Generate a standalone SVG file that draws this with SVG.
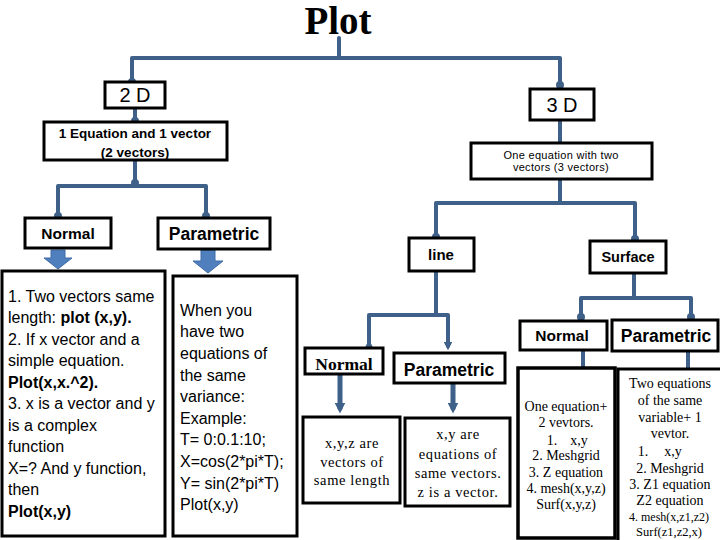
<svg xmlns="http://www.w3.org/2000/svg" width="720" height="540" viewBox="0 0 720 540">
<style>
.box{fill:#fff;stroke:#000;stroke-width:3}
.tbox{fill:#fff;stroke:#000;stroke-width:3}
.con{fill:none;stroke:#3f6089;stroke-width:4;stroke-linecap:round;stroke-linejoin:round}
.sb{font-family:"Liberation Sans",Arial,sans-serif;font-weight:bold;fill:#000}
.sr{font-family:"Liberation Sans",Arial,sans-serif;fill:#000}
.tr{font-family:"Liberation Serif","Times New Roman",serif;fill:#000}
.mid{text-anchor:middle}
.blk{fill:#4f7fbd;stroke:#3f6ca8;stroke-width:1}
</style>
<defs>
<marker id="dot" viewBox="0 0 6 6" refX="3" refY="3" markerWidth="2" markerHeight="2" markerUnits="strokeWidth">
<circle cx="3" cy="3" r="3" fill="#3f6089"/>
</marker>
<marker id="tip" viewBox="0 0 10 10" refX="5" refY="5" markerWidth="2.2" markerHeight="2.2" markerUnits="strokeWidth" orient="auto">
<path d="M0,0 L10,5 L0,10 z" fill="#3f6089"/>
</marker>
</defs>

<g id="connectors">
<path class="con" d="M339,38 V58"/>
<path class="con" d="M132,82 V58 H560 V85" marker-start="url(#dot)" marker-end="url(#dot)"/>
<path class="con" d="M135,108 V121" marker-end="url(#dot)"/>
<path class="con" d="M135,161 V183" marker-end="url(#dot)"/>
<path class="con" d="M58,216 V186 H206 V216" marker-start="url(#dot)" marker-end="url(#dot)"/>
<path class="con" d="M560,121 V142"/>
<path class="con" d="M560,179 V203"/>
<path class="con" d="M436,237 V203 H635 V239" marker-start="url(#dot)" marker-end="url(#dot)"/>
<path class="con" d="M436,271 V313"/>
<path class="con" d="M369,344 V315 H448 V346" marker-start="url(#tip)" marker-end="url(#tip)"/>
<path class="con" style="stroke-width:5" d="M340,375 V408" marker-end="url(#tip)"/>
<path class="con" style="stroke-width:5" d="M453,384 V408" marker-end="url(#tip)"/>
<path class="con" d="M634,273 V297"/>
<path class="con" d="M581,317 V298 H691 V317" marker-start="url(#dot)" marker-end="url(#dot)"/>
<path class="con" d="M583,351 V367"/>
<path class="con" d="M688,352 V368"/>
<path class="blk" d="M51,250 H65 V258 H72 L58,269 L44,258 H51 Z"/>
<path class="blk" d="M201,250 H215 V261 H223 L208,273 L193,261 H201 Z"/>
</g>

<g id="title">
<text x="338" y="34" class="tr mid" style="font-size:39px;font-weight:bold">Plot</text>
</g>

<g id="n2d">
<rect class="box" x="105" y="82" width="60" height="26"/>
<text x="135" y="102" class="sr mid" style="font-size:20px">2 D</text>
</g>

<g id="n3d">
<rect class="box" x="530" y="89" width="64" height="31"/>
<text x="562" y="112" class="sr mid" style="font-size:20px">3 D</text>
</g>

<g id="eq2d">
<rect class="box" x="44" y="122" width="183" height="38"/>
<text x="135" y="138" class="sb mid" style="font-size:13.5px">1 Equation and 1 vector</text>
<text x="135" y="157" class="sb mid" style="font-size:13.5px">(2 vectors)</text>
</g>

<g id="normal2d">
<rect class="box" x="25" y="218" width="86" height="30"/>
<text x="68" y="239" class="sb mid" style="font-size:15.5px">Normal</text>
</g>

<g id="param2d">
<rect class="box" x="158" y="218" width="112" height="31"/>
<text x="214" y="240" class="sb mid" style="font-size:17.5px">Parametric</text>
</g>

<g id="normal2dText">
<rect class="tbox" x="2" y="271" width="163" height="265"/>
<g class="sr" style="font-size:16px">
<text x="8" y="302">1. Two vectors same</text>
<text x="8" y="323">length: <tspan style="font-weight:bold">plot (x,y).</tspan></text>
<text x="8" y="345">2. If x vector and a</text>
<text x="8" y="366">simple equation.</text>
<text x="8" y="388" style="font-weight:bold">Plot(x,x.^2).</text>
<text x="8" y="409">3. x is a vector and y</text>
<text x="8" y="431">is a complex</text>
<text x="8" y="452">function</text>
<text x="8" y="474">X=? And y function,</text>
<text x="8" y="495">then</text>
<text x="8" y="517" style="font-weight:bold">Plot(x,y)</text>
</g>
</g>

<g id="param2dText">
<rect class="tbox" x="173" y="276" width="124" height="260"/>
<g class="sr" style="font-size:16px">
<text x="180" y="316">When you</text>
<text x="180" y="337">have two</text>
<text x="180" y="359">equations of</text>
<text x="180" y="381">the same</text>
<text x="180" y="402">variance:</text>
<text x="180" y="424">Example:</text>
<text x="180" y="445">T= 0:0.1:10;</text>
<text x="180" y="467">X=cos(2*pi*T);</text>
<text x="180" y="489">Y= sin(2*pi*T)</text>
<text x="180" y="510">Plot(x,y)</text>
</g>
</g>

<g id="eq3d">
<rect class="box" x="471" y="143" width="181" height="36"/>
<text x="561" y="159" class="sr mid" style="font-size:11px;letter-spacing:0.3px">One equation with two</text>
<text x="561" y="171" class="sr mid" style="font-size:11px;letter-spacing:0.3px">vectors (3 vectors)</text>
</g>

<g id="line">
<rect class="box" x="409" y="238" width="65" height="33"/>
<text x="441" y="260" class="sb mid" style="font-size:15px">line</text>
</g>

<g id="surface">
<rect class="box" x="590" y="241" width="76" height="32"/>
<text x="628" y="262" class="sb mid" style="font-size:14.5px">Surface</text>
</g>

<g id="lineNormal">
<rect class="box" x="305" y="348" width="78" height="26"/>
<text x="344" y="370" class="tr mid" style="font-size:17.5px;font-weight:bold">Normal</text>
</g>

<g id="lineParam">
<rect class="box" x="394" y="353" width="111" height="30"/>
<text x="449" y="376" class="sb mid" style="font-size:17.5px">Parametric</text>
</g>

<g id="lineNormalText">
<rect class="tbox" x="303" y="417" width="97" height="86"/>
<g class="tr mid" style="font-size:14.5px;letter-spacing:0.6px">
<text x="352" y="448">x,y,z are</text>
<text x="352" y="466.5">vectors of</text>
<text x="352" y="485">same length</text>
</g>
</g>

<g id="lineParamText">
<rect class="tbox" x="405" y="418" width="105" height="88"/>
<g class="tr mid" style="font-size:14.5px;letter-spacing:0.6px">
<text x="458" y="439">x,y are</text>
<text x="458" y="458.5">equations of</text>
<text x="458" y="478">same vectors.</text>
<text x="458" y="497">z is a vector.</text>
</g>
</g>

<g id="surfNormal">
<rect class="box" x="520" y="321" width="87" height="29"/>
<text x="562" y="341" class="sb mid" style="font-size:15.5px">Normal</text>
</g>

<g id="surfParam">
<rect class="box" x="612" y="320" width="106" height="31"/>
<text x="666" y="342" class="sb mid" style="font-size:17.5px">Parametric</text>
</g>

<g id="surfNormalText">
<rect class="tbox" x="518" y="368" width="97" height="170" style="stroke-width:3.5"/>
<g class="tr mid" style="font-size:14px">
<text x="566" y="410.5">One equation+</text>
<text x="566" y="427">2 vevtors.</text>
<text x="552" y="444.5">1.</text>
<text x="579" y="444.5">x,y</text>
<text x="566" y="460">2. Meshgrid</text>
<text x="566" y="477">3. Z equation</text>
<text x="566" y="493">4. mesh(x,y,z)</text>
<text x="566" y="509">Surf(x,y,z)</text>
</g>
</g>

<g id="surfParamText">
<rect class="tbox" x="618" y="369" width="110" height="180"/>
<g class="tr mid" style="font-size:14px">
<text x="670" y="387.5">Two equations</text>
<text x="670" y="405">of the same</text>
<text x="670" y="421.5">variable+ 1</text>
<text x="670" y="438">vevtor.</text>
<text x="643" y="456">1.</text>
<text x="673" y="456">x,y</text>
<text x="670" y="472.5">2. Meshgrid</text>
<text x="670" y="488.5">3. Z1 equation</text>
<text x="670" y="504.5">Z2 equation</text>
<text x="669" y="521" style="font-size:12px">4. mesh(x,z1,z2)</text>
<text x="669" y="536" style="font-size:12.5px">Surf(z1,z2,x)</text>
</g>
</g>
</svg>
